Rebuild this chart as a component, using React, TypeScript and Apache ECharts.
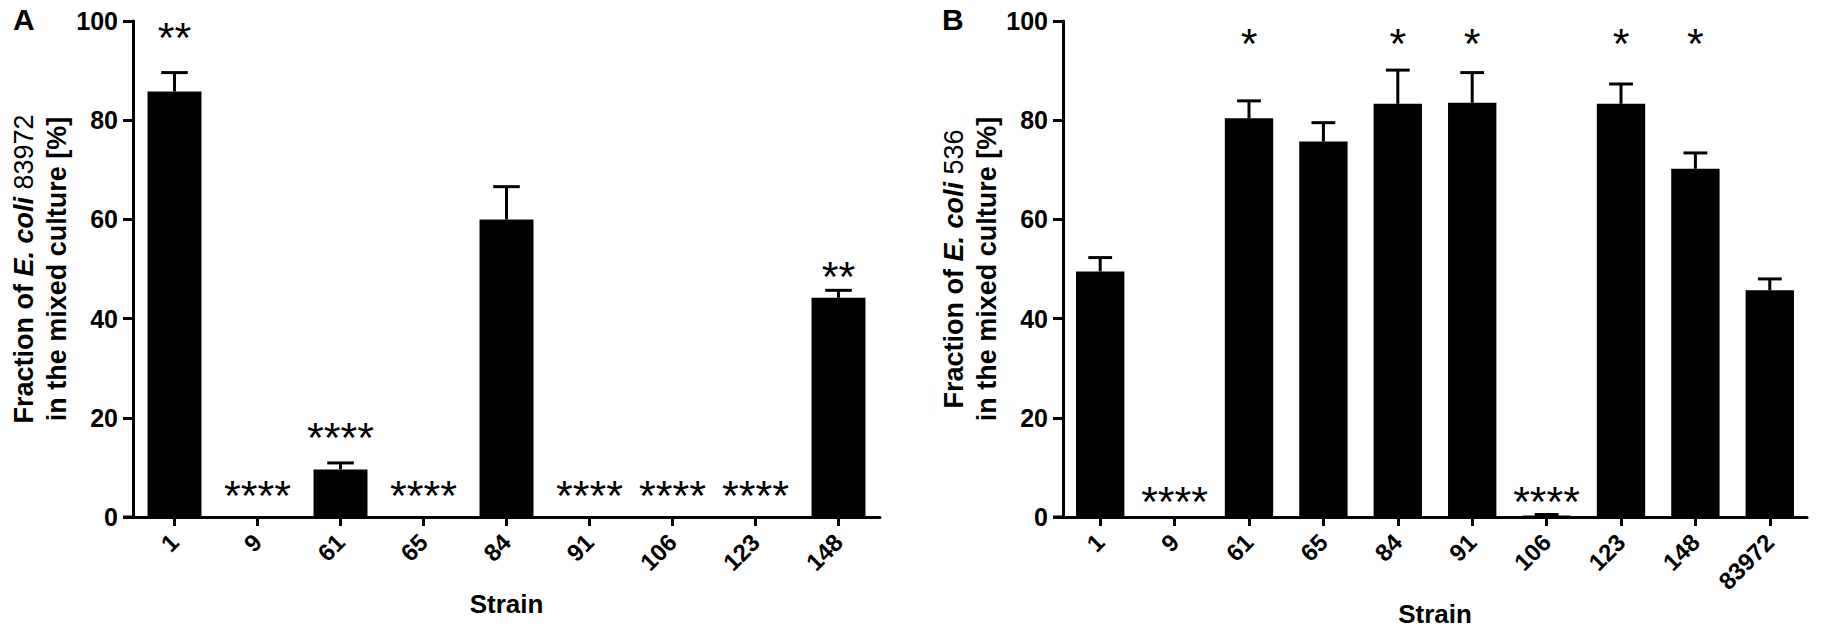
import React, { useEffect, useRef } from "react";
import * as echarts from "echarts";

const FONT = '"Liberation Sans", Arial, Helvetica, sans-serif';

// Panel A: competition with E. coli 83972
const catsA = ["1", "9", "61", "65", "84", "91", "106", "123", "148"];
const meanA = [85.8, 0, 9.6, 0, 60.0, 0, 0, 0, 44.2];
const errA = [3.8, 0, 1.3, 0, 6.6, 0, 0, 0, 1.5];
const sigA = ["**", "****", "****", "****", "", "****", "****", "****", "**"];
const sigYA = [99, 6.7, 18.4, 6.7, 0, 6.7, 6.7, 6.7, 50.8];

// Panel B: competition with E. coli 536
const catsB = ["1", "9", "61", "65", "84", "91", "106", "123", "148", "83972"];
const meanB = [49.5, 0, 80.4, 75.7, 83.3, 83.5, 0.3, 83.3, 70.2, 45.7];
const errB = [2.8, 0, 3.5, 3.8, 6.8, 6.1, 0.2, 4.0, 3.2, 2.3];
const sigB = ["", "****", "*", "", "*", "*", "****", "*", "*", ""];
const sigYB = [0, 5.5, 97.7, 0, 97.7, 97.7, 5.5, 97.7, 97.7, 0];

const yMin = 0;
const yMax = 100;
const yStep = 20;

function buildAxes(cats: string[], gi: number) {
  const xAxis = {
    type: "category",
    gridIndex: gi,
    data: cats,
    boundaryGap: true,
    name: "Strain",
    nameLocation: "middle",
    nameGap: 74,
    nameTextStyle: { fontFamily: FONT, fontWeight: "bold", fontSize: 26, color: "#000" },
    axisLine: { show: true, lineStyle: { color: "#000", width: 3 } },
    axisTick: { show: true, alignWithLabel: true, interval: 0, length: 9, lineStyle: { color: "#000", width: 3 } },
    axisLabel: {
      interval: 0,
      rotate: 45,
      margin: 21,
      fontFamily: FONT,
      fontWeight: "bold",
      fontSize: 24,
      color: "#000",
    },
    splitLine: { show: false },
  };
  const yAxis = {
    type: "value",
    gridIndex: gi,
    min: yMin,
    max: yMax,
    interval: yStep,
    axisLine: { show: true, lineStyle: { color: "#000", width: 3 } },
    axisTick: { show: true, length: 10, lineStyle: { color: "#000", width: 3 } },
    axisLabel: { margin: 15, fontFamily: FONT, fontWeight: "bold", fontSize: 25, color: "#000" },
    splitLine: { show: false },
  };
  return { xAxis, yAxis };
}

function errRender(params: any, api: any) {
  const xi = api.value(0);
  const m = api.value(1);
  const e = api.value(2);
  if (!(e > 0)) return null;
  const p0 = api.coord([xi, m]);
  const p1 = api.coord([xi, m + e]);
  const bw = api.size([1, 0])[0];
  const half = bw * 0.16;
  return {
    type: "group",
    children: [
      { type: "line", shape: { x1: p0[0], y1: p0[1], x2: p1[0], y2: p1[1] }, style: { stroke: "#000", lineWidth: 3 } },
      { type: "line", shape: { x1: p1[0] - half, y1: p1[1], x2: p1[0] + half, y2: p1[1] }, style: { stroke: "#000", lineWidth: 3 } },
    ],
  };
}

function buildSeries(means: number[], errs: number[], sig: string[], sigY: number[], gi: number) {
  return [
    {
      type: "bar",
      xAxisIndex: gi,
      yAxisIndex: gi,
      data: means,
      barWidth: "65%",
      itemStyle: { color: "#000" },
    },
    {
      type: "custom",
      xAxisIndex: gi,
      yAxisIndex: gi,
      renderItem: errRender,
      encode: { x: 0, y: 1 },
      data: means.map((m, i) => [i, m, errs[i]]),
      z: 3,
    },
    {
      type: "scatter",
      xAxisIndex: gi,
      yAxisIndex: gi,
      symbolSize: 1,
      itemStyle: { color: "transparent", opacity: 1 },
      data: sig.map((s, i) => [i, sigY[i]]),
      label: {
        show: true,
        position: "inside",
        offset: [0, 11],
        formatter: (p: any) => sig[p.dataIndex],
        fontFamily: FONT,
        fontWeight: "normal",
        fontSize: 43,
        color: "#000",
        opacity: 1,
        textBorderWidth: 0,
      },
      z: 4,
    },
  ];
}

function titleText(x: number, num: string) {
  return {
    type: "text",
    x,
    y: 269,
    rotation: Math.PI / 2,
    style: {
      text: "{b|Fraction of }{i|E. coli}{n| " + num + "}\n{b|in the mixed culture [%]}",
      align: "center",
      verticalAlign: "middle",
      rich: {
        b: { fontFamily: FONT, fontWeight: "bold", fontSize: 27, lineHeight: 33, fill: "#000" },
        i: { fontFamily: FONT, fontWeight: "bold", fontStyle: "italic", fontSize: 27, lineHeight: 33, fill: "#000" },
        n: { fontFamily: FONT, fontWeight: "normal", fontSize: 27, lineHeight: 33, fill: "#000" },
      },
    },
  };
}

export default function App() {
  const ref = useRef<HTMLDivElement>(null);
  useEffect(() => {
    if (!ref.current) return;
    const chart = echarts.init(ref.current, null, { renderer: "svg" });
    const a = buildAxes(catsA, 0);
    const b = buildAxes(catsB, 1);
    chart.setOption({
      animation: false,
      backgroundColor: "#fff",
      textStyle: { fontFamily: FONT },
      grid: [
        { left: 133, top: 21, width: 747, height: 496 },
        { left: 1063, top: 21, width: 744, height: 496 },
      ],
      xAxis: [a.xAxis, b.xAxis],
      yAxis: [a.yAxis, b.yAxis],
      series: [
        ...buildSeries(meanA, errA, sigA, sigYA, 0),
        ...buildSeries(meanB, errB, sigB, sigYB, 1),
      ],
      graphic: [
        { type: "text", x: 13, y: 4, style: { text: "A", fontFamily: FONT, fontWeight: "bold", fontSize: 30, fill: "#000" } },
        { type: "text", x: 942, y: 4, style: { text: "B", fontFamily: FONT, fontWeight: "bold", fontSize: 30, fill: "#000" } },
        titleText(40.5, "83972"),
        titleText(970, "536"),
        { type: "line", shape: { x1: 123, y1: 517, x2: 134, y2: 517 }, style: { stroke: "#000", lineWidth: 3 } },
        { type: "line", shape: { x1: 1053, y1: 517, x2: 1064, y2: 517 }, style: { stroke: "#000", lineWidth: 3 } },
      ],
    });
    return () => chart.dispose();
  }, []);
  return (
    <div
      ref={ref}
      style={{ position: "absolute", left: 0, top: 0, width: 1826, height: 635, background: "#fff" }}
    />
  );
}
